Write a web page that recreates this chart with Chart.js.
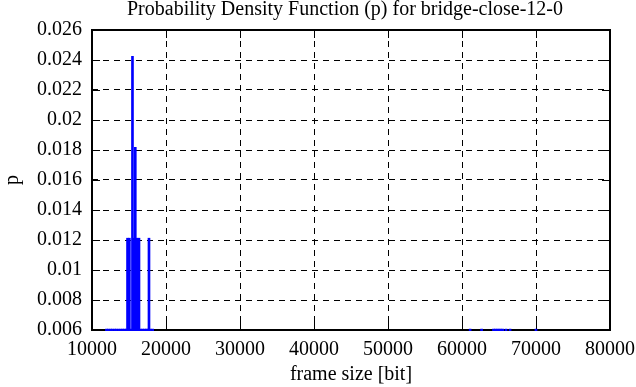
<!DOCTYPE html>
<html>
<head>
<meta charset="utf-8">
<script src="https://cdn.jsdelivr.net/npm/chart.js@4/dist/chart.umd.min.js"></script>
<style>
  html, body { margin: 0; padding: 0; background: #fff; }
  #wrap { width: 636px; height: 387px; }
</style>
</head>
<body>
<div id="wrap"><canvas id="pdf"></canvas></div>
<script>
// frame sizes [bit] and their probabilities
const frameSizes = [
  11950, 12200, 12500, 12750, 13050, 13300, 13600, 13900, 14150, 14400, 14650,
  14800, 14950, 15050, 15250, 15470, 15650, 15850, 15950, 16080, 16200, 16350,
  16600, 16850, 17100, 17350, 17550, 17700, 17900, 18200,
  61100, 62650, 64250, 64500, 64750, 65000, 65250, 65500, 65950, 66500, 70000
];
const probs = [
  0.00606, 0.00606, 0.00606, 0.00606, 0.00606, 0.00606, 0.00606, 0.00606, 0.00606, 0.00606, 0.00606,
  0.01212, 0.00606, 0.01212, 0.00606, 0.02424, 0.01212, 0.01818, 0.00606, 0.01212, 0.00606, 0.01212,
  0.00606, 0.00606, 0.00606, 0.00606, 0.00606, 0.01212, 0.00606, 0.00606,
  0.00606, 0.00606, 0.00606, 0.00606, 0.00606, 0.00606, 0.00606, 0.00606, 0.00606, 0.00606, 0.00606
];
const xTicks = [10000, 20000, 30000, 40000, 50000, 60000, 70000, 80000];
const yTicks = [0.006, 0.008, 0.01, 0.012, 0.014, 0.016, 0.018, 0.02, 0.022, 0.024, 0.026];

const titleText = 'Probability Density Function (p) for bridge-close-12-0';
const fontFam = '"Liberation Serif", "DejaVu Serif", serif';

// frame, inward ticks and the texts gnuplot puts around the plot
const gnuplotFrame = {
  id: 'gnuplotFrame',
  beforeDatasetsDraw(chart) {
    const ctx = chart.ctx;
    const a = chart.chartArea;
    const xs = chart.scales.x, ys = chart.scales.y;
    ctx.save();
    ctx.strokeStyle = '#000';
    ctx.lineWidth = 1;
    ctx.setLineDash([]);
    ctx.beginPath();
    xTicks.forEach(v => {
      const px = Math.round(xs.getPixelForValue(v)) + 0.5;
      ctx.moveTo(px, a.bottom); ctx.lineTo(px, a.bottom - 8);
      ctx.moveTo(px, a.top); ctx.lineTo(px, a.top + 8);
    });
    yTicks.forEach(v => {
      const py = Math.round(ys.getPixelForValue(v)) + 0.5;
      ctx.moveTo(a.left, py); ctx.lineTo(a.left + 8, py);
      ctx.moveTo(a.right, py); ctx.lineTo(a.right - 8, py);
    });
    ctx.stroke();
    ctx.lineWidth = 2;
    ctx.strokeRect(a.left, a.top, a.right - a.left, a.bottom - a.top);
    ctx.restore();
  },
  afterDraw(chart) {
    const ctx = chart.ctx;
    const a = chart.chartArea;
    ctx.save();
    ctx.fillStyle = '#000';
    ctx.font = '20px ' + fontFam;
    ctx.textAlign = 'center';
    ctx.textBaseline = 'middle';
    ctx.fillText(titleText, 345, 10);
    ctx.fillText('frame size [bit]', (a.left + a.right) / 2, 375);
    ctx.translate(13, (a.top + a.bottom) / 2);
    ctx.rotate(-Math.PI / 2);
    ctx.fillText('p', 0, 0);
    ctx.restore();
  }
};

new Chart(document.getElementById('pdf'), {
  type: 'bar',
  data: {
    datasets: [{
      data: frameSizes.map((x, i) => ({ x: x, y: probs[i] })),
      backgroundColor: '#0000ff',
      borderWidth: 0,
      barThickness: 2,
      clip: { left: 0, right: 0, top: 0, bottom: 1 }
    }]
  },
  options: {
    responsive: true,
    maintainAspectRatio: false,
    animation: false,
    layout: { padding: { top: 30, right: 26, left: 0, bottom: 0 } },
    plugins: { legend: { display: false }, title: { display: false }, tooltip: { enabled: false } },
    scales: {
      x: {
        type: 'linear',
        min: 10000,
        max: 80000,
        offset: false,
        afterFit(scale) {
          scale.height = 57;
          scale.paddingLeft = 0;
          scale.paddingRight = 0;
        },
        ticks: {
          stepSize: 10000,
          autoSkip: false,
          color: '#000',
          font: { family: fontFam, size: 20 },
          padding: 8,
          maxRotation: 0,
          callback: v => String(v)
        },
        grid: { color: '#000', lineWidth: 1, drawTicks: false, offset: false },
        border: { display: false, dash: [6, 5] }
      },
      y: {
        min: 0.006,
        max: 0.026,
        afterFit(scale) {
          scale.width = 92;
          scale.paddingTop = 0;
          scale.paddingBottom = 0;
        },
        ticks: {
          stepSize: 0.002,
          autoSkip: false,
          color: '#000',
          font: { family: fontFam, size: 20 },
          padding: 10,
          callback: v => String(+v.toFixed(3))
        },
        grid: { color: '#000', lineWidth: 1, drawTicks: false, offset: false },
        border: { display: false, dash: [6, 5] }
      }
    }
  },
  plugins: [gnuplotFrame]
});
</script>
</body>
</html>
